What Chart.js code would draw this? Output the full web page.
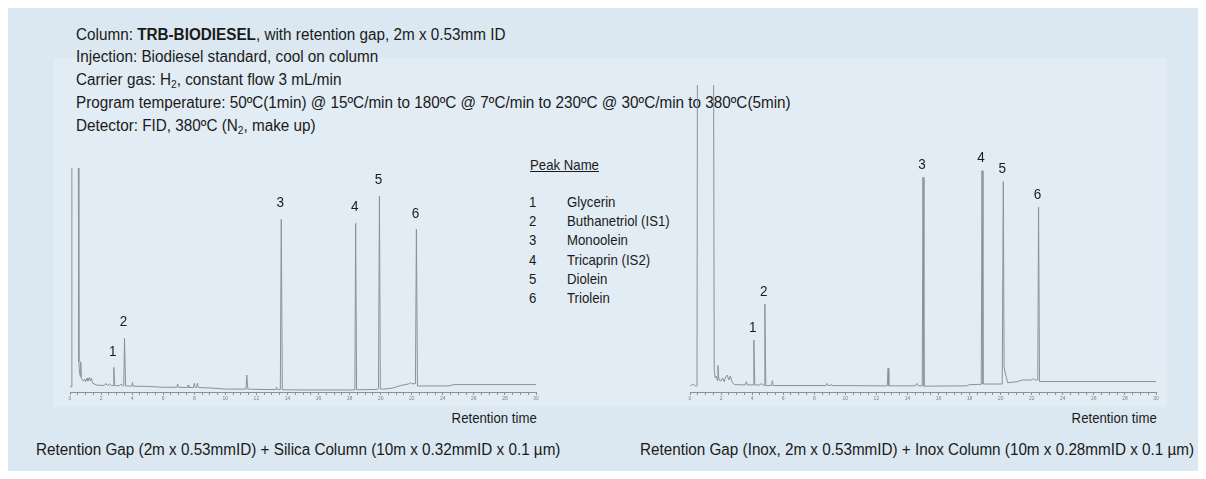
<!DOCTYPE html>
<html>
<head>
<meta charset="utf-8">
<script src="https://cdn.jsdelivr.net/npm/chart.js@4.4.1/dist/chart.umd.min.js"></script>
<style>
  body { margin: 0; width: 1206px; height: 479px; background: #fff; position: relative; overflow: hidden;
         font-family: "Liberation Sans", Arial, sans-serif; color: #1a1a1a; }
  .bg { position: absolute; left: 8px; top: 8px; width: 1190px; height: 463px; background: #dce8f1; }
  .panel { position: absolute; left: 53px; top: 58px; width: 1114px; height: 349px; background: #e2ecf4; }
  .txt { position: absolute; white-space: nowrap; transform: scaleX(0.88); transform-origin: left center; }
  .header { left: 76px; top: 23.6px; font-size: 15.8px; line-height: 22.75px; transform: scaleX(0.967); }
  .header sub { font-size: 10.5px; vertical-align: -3px; line-height: 0; }
  .legend { font-size: 15px; line-height: 19.2px; }
  .rt { font-size: 15px; transform-origin: right center; text-align: right; }
  .cap { font-size: 16px; top: 441px; transform: scaleX(0.953); }
  canvas { position: absolute; }
</style>
</head>
<body>
<div class="bg"></div>
<div class="panel"></div>

<div class="txt header">
  Column: <b>TRB-BIODIESEL</b>, with retention gap, 2m x 0.53mm ID<br>
  Injection: Biodiesel standard, cool on column<br>
  Carrier gas: H<sub>2</sub>, constant flow 3 mL/min<br>
  Program temperature: 50ºC(1min) @ 15ºC/min to 180ºC @ 7ºC/min to 230ºC @ 30ºC/min to 380ºC(5min)<br>
  Detector: FID, 380ºC (N<sub>2</sub>, make up)
</div>

<div class="txt legend" style="left:530px; top:155px; text-decoration: underline;">Peak Name</div>
<div id="legendRows"></div>

<canvas id="leftChart" width="500" height="246" style="left:50px; top:160px;"></canvas>
<canvas id="rightChart" width="500" height="329" style="left:670px; top:77px;"></canvas>

<div class="txt rt" style="right:669px; top:409px;">Retention time</div>
<div class="txt rt" style="right:49px; top:409px;">Retention time</div>

<div class="txt cap" style="left:36px;">Retention Gap (2m x 0.53mmID) + Silica Column (10m x 0.32mmID x 0.1 µm)</div>
<div class="txt cap" style="left:640px;">Retention Gap (Inox, 2m x 0.53mmID) + Inox Column (10m x 0.28mmID x 0.1 µm)</div>

<script>
// peak identification
const peakNumbers = ['1', '2', '3', '4', '5', '6'];
const peakNames = ['Glycerin', 'Buthanetriol (IS1)', 'Monoolein', 'Tricaprin (IS2)', 'Diolein', 'Triolein'];

// labelled peaks: retention time (min) and apex signal
const leftPeakTimes = [2.82, 3.51, 13.6, 18.39, 19.92, 22.3];
const leftPeakHeights = [11.0, 24.0, 77.1, 75.3, 87.5, 72.6];
const rightPeakTimes = [4.11, 4.82, 15.0, 18.8, 20.17, 22.44];
const rightPeakHeights = [16.9, 28.7, 69.9, 72.1, 68.5, 60.2];

// full traces [time, signal]; solvent peak runs off scale
const leftTrace = [
  [0, 2.4], [0.08, 2.4], [0.12, 150], [0.52, 150], [0.57, 13.4], [0.6, 9.8], [0.66, 6.8], [0.69, 13.5],
  [0.73, 6.2], [0.85, 4.9], [0.95, 5.8], [1.0, 4.5], [1.1, 6.2], [1.15, 4.9], [1.25, 6.5], [1.3, 4.9],
  [1.38, 6.2], [1.45, 4.0], [1.7, 3.1], [2.2, 2.9], [2.3, 3.8], [2.4, 2.9], [2.55, 3.6], [2.65, 2.9],
  [2.77, 2.9], [2.82, 11.0], [2.88, 2.9], [3.2, 2.8], [3.3, 3.6], [3.38, 2.8], [3.46, 2.8], [3.51, 24.0],
  [3.58, 2.7], [3.7, 2.7], [3.98, 2.6], [4.02, 4.2], [4.07, 2.6], [5.0, 2.5], [6.0, 2.1], [6.88, 2.1],
  [6.93, 3.6], [6.98, 2.1], [7.55, 2.0], [7.6, 3.0], [7.65, 2.0], [7.95, 2.0], [8.0, 3.9], [8.06, 2.0],
  [8.14, 2.0], [8.2, 3.9], [8.26, 2.0], [9.0, 1.8], [10.0, 1.3], [11.33, 1.3], [11.38, 7.6], [11.45, 1.3],
  [12.5, 1.1], [13.25, 1.1], [13.3, 2.1], [13.35, 1.1], [13.54, 1.0], [13.6, 77.1], [13.67, 1.0],
  [15.0, 0.9], [18.0, 0.9], [18.34, 0.9], [18.39, 75.3], [18.45, 1.0], [19.5, 1.1], [19.82, 1.2],
  [19.86, 1.9], [19.92, 87.5], [19.98, 1.3], [20.2, 1.3], [20.8, 1.8], [21.3, 2.9], [21.8, 3.6],
  [21.9, 4.2], [22.0, 3.7], [22.24, 3.7], [22.3, 72.6], [22.37, 2.7], [22.5, 2.7], [24.4, 2.7],
  [24.7, 3.3], [30, 3.3]
];
const rightTrace = [
  [0, 1.8], [0.15, 2.6], [0.35, 2.0], [0.45, 2.0], [0.49, 150], [1.5, 150], [1.56, 7.2], [1.62, 4.6],
  [1.7, 5.2], [1.76, 3.8], [1.8, 8.6], [1.86, 3.9], [2.0, 3.6], [2.1, 4.6], [2.2, 3.3], [2.3, 4.9],
  [2.4, 5.5], [2.5, 3.9], [2.6, 5.2], [2.7, 3.3], [2.85, 2.4], [3.55, 2.3], [3.63, 3.4], [3.7, 2.3],
  [4.06, 2.3], [4.11, 16.9], [4.17, 2.3], [4.5, 2.3], [4.6, 2.8], [4.7, 2.2], [4.77, 2.2], [4.82, 28.7],
  [4.88, 2.1], [5.25, 2.1], [5.3, 3.7], [5.36, 2.1], [8.75, 2.1], [8.83, 2.8], [8.9, 2.1], [9.05, 2.1],
  [9.1, 2.5], [9.15, 2.1], [12.7, 2.0], [12.75, 7.7], [12.8, 2.0], [14.5, 2.0], [14.6, 2.8], [14.7, 2.0],
  [14.95, 2.0], [15.0, 69.9], [15.06, 1.9], [17.8, 2.0], [18.0, 2.4], [18.75, 2.5], [18.8, 72.1],
  [18.86, 2.6], [20.1, 2.6], [20.17, 68.5], [20.22, 8.0], [20.28, 6.5], [20.45, 3.0], [21.0, 3.3],
  [21.4, 3.9], [22.0, 3.9], [22.1, 4.4], [22.2, 3.9], [22.39, 3.9], [22.44, 60.2], [22.5, 3.4], [30, 3.4]
];

// legend rows
const rowsHost = document.getElementById('legendRows');
peakNumbers.forEach((n, i) => {
  const top = 192 + i * 19.2;
  rowsHost.insertAdjacentHTML('beforeend',
    '<div class="txt legend" style="left:529px; top:' + top + 'px;">' + n + '</div>' +
    '<div class="txt legend" style="left:567px; top:' + top + 'px;">' + peakNames[i] + '</div>');
});

// numbers above the labelled peaks
const peakLabels = {
  id: 'peakLabels',
  afterDatasetsDraw(chart, args, opts) {
    const { ctx, scales: { x, y } } = chart;
    ctx.save();
    ctx.font = '15px "Liberation Sans", Arial, sans-serif';
    ctx.fillStyle = '#1a1a1a';
    ctx.textAlign = 'center';
    ctx.textBaseline = 'middle';
    opts.times.forEach((t, i) => {
      ctx.save();
      ctx.translate(x.getPixelForValue(t) - 1, y.getPixelForValue(opts.heights[i]) - opts.gap);
      ctx.scale(0.9, 1);
      ctx.fillText(peakNumbers[i], 0, 0);
      ctx.restore();
    });
    ctx.restore();
  }
};

const makeChart = (id, trace, times, heights, gap) => {
  const ctx = document.getElementById(id).getContext('2d');
  return new Chart(ctx, {
    type: 'line',
    data: {
      datasets: [{
        data: trace.map(p => ({ x: p[0], y: p[1] })),
        borderColor: '#8b9198',
        borderWidth: 1,
        pointRadius: 0,
        tension: 0
      }]
    },
    options: {
      responsive: false,
      animation: false,
      layout: { padding: { left: 20, right: 14, top: 8, bottom: 0 } },
      plugins: {
        legend: { display: false },
        tooltip: { enabled: false },
        peakLabels: { times: times, heights: heights, gap: gap }
      },
      scales: {
        x: {
          type: 'linear',
          min: 0,
          max: 30,
          afterFit: s => { s.height = 14; s.paddingLeft = 0; s.paddingRight = 0; },
          ticks: {
            stepSize: 0.5,
            autoSkip: false,
            maxRotation: 0,
            padding: 1,
            color: '#7d848a',
            font: { size: 5 },
            callback: v => (v % 2 === 0 ? v : '')
          },
          grid: { drawOnChartArea: false, tickLength: 3, color: '#8b9198' },
          border: { color: '#8b9198' }
        },
        y: { display: false, min: 0, max: 100 }
      }
    },
    plugins: [peakLabels]
  });
};

makeChart('leftChart', leftTrace, leftPeakTimes, leftPeakHeights, 16);
makeChart('rightChart', rightTrace, rightPeakTimes, rightPeakHeights, 12.5);
</script>
</body>
</html>
